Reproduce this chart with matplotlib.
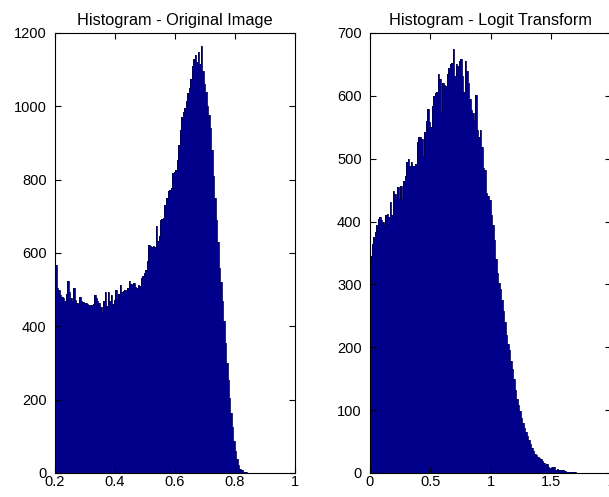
import matplotlib
matplotlib.use("Agg")
import matplotlib.pyplot as plt

plt.rcParams['font.family'] = ['Liberation Sans', 'DejaVu Sans']

# left panel: histogram of the original image, bins of 0.005 starting at 0.2
orig_start = 0.2
orig_width = 0.005
orig_counts = [
    568, 505, 498, 486, 480, 477, 470, 488, 523, 495,
    477, 468, 505, 472, 465, 462, 480, 470, 466, 464,
    465, 460, 458, 455, 458, 462, 486, 478, 470, 465,
    452, 440, 468, 495, 455, 494, 470, 486, 462, 472,
    500, 475, 488, 514, 495, 497, 500, 496, 505, 523,
    515, 512, 518, 508, 505, 514, 510, 532, 538, 545,
    555, 577, 623, 620, 615, 618, 616, 673, 632, 645,
    691, 693, 695, 730, 750, 768, 772, 777, 818, 822,
    827, 855, 895, 935, 972, 985, 995, 1015, 1035, 1050,
    1075, 1110, 1130, 1140, 1120, 1148, 1115, 1165, 1095, 1060,
    1040, 1000, 975, 940, 880, 810, 750, 690, 630, 560,
    520, 470, 415, 355, 300, 255, 205, 165, 125, 88,
    60, 38, 22, 12, 7, 4, 3, 2, 1, 1,
]

# right panel: histogram after the logit transform, bins of 0.0125 starting at 0
logit_start = 0.0
logit_width = 0.0125
logit_counts = [
    346, 365, 375, 383, 395, 404, 407, 402, 400, 394,
    410, 412, 407, 431, 410, 449, 444, 439, 455, 436,
    457, 436, 465, 473, 494, 499, 489, 494, 489, 489,
    492, 526, 534, 534, 531, 505, 542, 560, 579, 558,
    550, 584, 600, 604, 606, 634, 627, 574, 621, 618,
    616, 634, 645, 650, 653, 674, 632, 650, 648, 655,
    658, 632, 606, 656, 640, 621, 595, 577, 572, 562,
    601, 546, 535, 546, 519, 485, 482, 445, 440, 434,
    410, 394, 371, 340, 318, 302, 292, 275, 258, 240,
    220, 205, 195, 178, 166, 150, 132, 118, 108, 98,
    88, 80, 72, 65, 59, 52, 46, 40, 35, 31,
    28, 26, 24, 22, 19, 16, 13, 15, 10, 8,
    7, 9, 10, 5, 6, 4, 4, 5, 5, 3,
    2, 2, 2, 1, 1, 1, 1, 0,
]

orig_xticks = [0.2, 0.4, 0.6, 0.8, 1]
orig_yticks = [0, 200, 400, 600, 800, 1000, 1200]
logit_xticks = [0, 0.5, 1, 1.5, 2]
logit_yticks = [0, 100, 200, 300, 400, 500, 600, 700]

W, H = 609, 497
fig = plt.figure(figsize=(W / 100, H / 100), dpi=100)
fig.patch.set_facecolor('white')

face = '#00008a'
edge = '#000050'


def draw_hist(ax, start, width, counts, xlim, ylim, xticks, yticks, title):
    edges = [start + i * width for i in range(len(counts) + 1)]
    # one filled step polygon, so no hairline gaps between bars
    ax.stairs(counts, edges, fill=True, color=face, linewidth=0)
    ax.stairs(counts, edges, color=edge, linewidth=0.6)
    ax.set_xlim(xlim)
    ax.set_ylim(ylim)
    ax.set_xticks(xticks)
    ax.set_xticklabels([('%g' % t) for t in xticks])
    ax.set_yticks(yticks)
    ax.set_yticklabels([('%g' % t) for t in yticks])
    ax.tick_params(direction='in', length=4, width=0.8, top=True, right=True,
                   labelsize=10.5, colors='black')
    ax.tick_params(axis='x', pad=1.5)
    ax.tick_params(axis='y', pad=6)
    for s in ax.spines.values():
        s.set_linewidth(0.8)
    ax.set_title(title, fontsize=11.8, pad=6)


ax1 = fig.add_axes([55 / W, 24 / H, 240 / W, 440 / H])
draw_hist(ax1, orig_start, orig_width, orig_counts, (0.2, 1), (0, 1200),
          orig_xticks, orig_yticks, 'Histogram - Original Image')

ax2 = fig.add_axes([370 / W, 24 / H, 241 / W, 440 / H])
draw_hist(ax2, logit_start, logit_width, logit_counts, (0, 2), (0, 700),
          logit_xticks, logit_yticks, 'Histogram - Logit Transform')

fig.savefig('out.png', dpi=100, facecolor='white')
